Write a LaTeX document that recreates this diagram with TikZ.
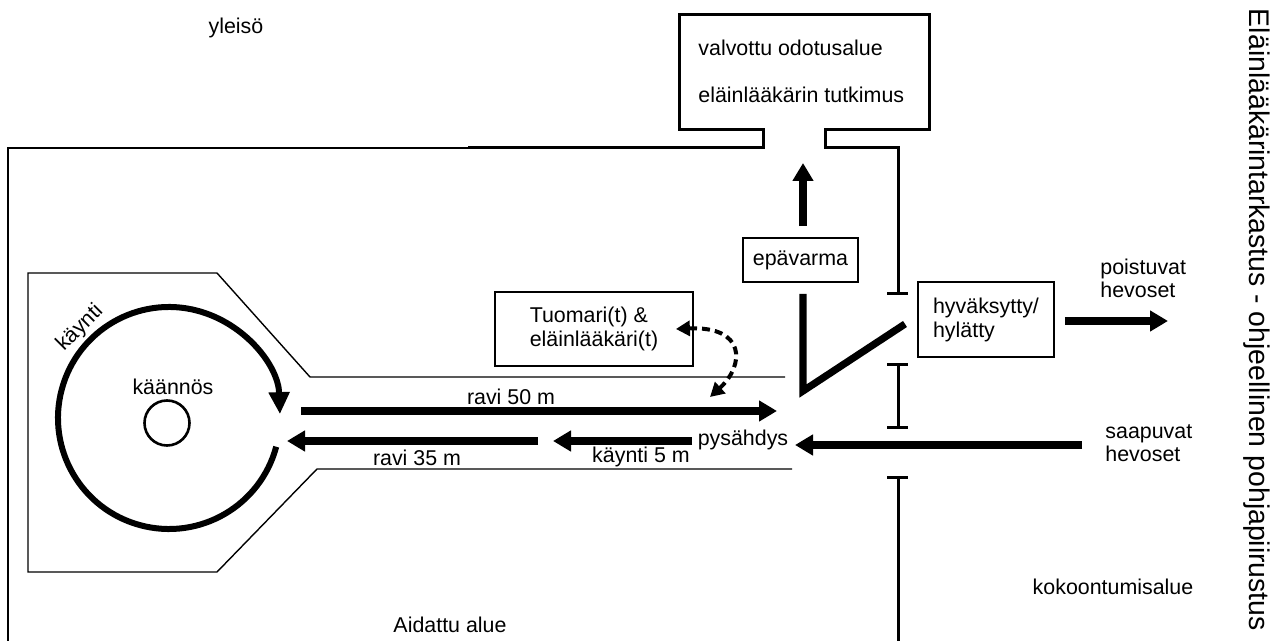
\documentclass[tikz,border=0pt]{standalone}
\usepackage{fontspec}
\setmainfont{Liberation Sans}
\usetikzlibrary{arrows.meta}

\begin{document}
\begin{tikzpicture}[x=0.5pt,y=-0.5pt,
    fence/.style={line width=1.5pt},
    lane/.style={line width=0.7pt},
    fat/.style={line width=3.6pt},
    fatarrow/.style={fat,-{Triangle[length=9pt,width=10pt]}},
    box/.style={draw,line width=0.9pt,inner sep=0pt,align=left},
    lbl/.style={inner sep=0pt,align=left},
    dasharrow/.style={line width=2pt,dash pattern=on 4pt off 2.5pt,
      {Triangle[length=7pt,width=7.5pt]}-{Triangle[length=7pt,width=7.5pt]}}]
    \providecommand{\planfont}{\fontsize{10.7}{12}\selectfont}
    \providecommand{\titlefont}{\fontsize{14.2}{16}\selectfont}
    \tikzset{every node/.append style={font=\planfont}}
    \useasboundingbox (0,0) rectangle (1281,641);
    % aita ja odotusalue
    \draw[line width=1.2pt] (8,641) -- (8,148) -- (468,148);
    \draw[fence] (468,148) -- (763,148) -- (763,130) -- (679,130) -- (679,15) -- (929,15)
      -- (929,130) -- (825,130) -- (825,148) -- (898,148) -- (898,294);
    \draw[fence] (887,294) -- (908,294);
    \draw[fence] (898,365) -- (898,428) (887,365) -- (908,365) (887,428) -- (908,428);
    \draw[fence] (887,478) -- (908,478) (898,478) -- (898,641);
    % ravikuja
    \draw[lane] (785,377) -- (310,377) -- (217,273) -- (28,273) -- (28,572) -- (217,572)
      -- (317,469) -- (792,469);
    \coordinate (ring) at (169,418);
    \draw[line width=3pt,-{Triangle[length=11pt,width=10pt]}] (ring) ++(15:111)
      arc[start angle=15,end angle=358,radius=111];
    \node[draw,circle,minimum size=22.5pt,inner sep=0pt,line width=1.3pt] (turn) at (167,423) {};
    \node (kaannos) at (173,387) {käännös};
    \node[rotate=45,inner sep=0pt] (kaynti) at (80,328) {käynti};
    \node (ravi50) at (511,397) {ravi 50 m};
    \node (ravi35) at (417,458) {ravi 35 m};
    \node (kaynti5) at (641,457) {käynti 5 m};
    \node (pysahdys) at (743,440) {pysähdys};
    \draw[fatarrow] (301,411) -- (777,411);
    \draw[fatarrow] (538,441) -- (287,441);
    \draw[fatarrow] (692,441) -- (553,441);
    \draw[fatarrow] (1082,445) -- (795,445);
    % laatikot
    \node[box,minimum width=99pt,minimum height=37pt] (tuomari) at (594,329) {Tuomari(t) \&\\eläinlääkäri(t)};
    \node[box,minimum width=57.5pt,minimum height=22pt] (epavarma) at (800.5,260) {epävarma};
    \node[box,minimum width=68pt,minimum height=37.5pt] (hyvaksytty) at (986,319.5) {hyväksytty/\\hylätty};
    \node[lbl,anchor=west] (valvottu) at (698,48) {valvottu odotusalue};
    \node[lbl,anchor=west] (tutkimus) at (698,95) {eläinlääkärin tutkimus};
    \coordinate (odotus) at (803,163);
    \coordinate (haltpoint) at (710,397);
    \coordinate (exit) at (1168,321);
    \draw[fatarrow] ([xshift=1.25pt,yshift=5.5pt]epavarma.north) -- (odotus);
    \draw[fat] ([xshift=1.25pt,yshift=-5.5pt]epavarma.south) -- (803,391) -- (905,324);
    \draw[dasharrow] ([xshift=-9pt]tuomari.east) .. controls +(70,-3) and +(35,-32) .. (haltpoint);
    \draw[fatarrow] ([xshift=5pt,yshift=-0.75pt]hyvaksytty.east) -- (exit);
    \node[lbl,anchor=west] (poistuvat) at (1100,278) {poistuvat\\[-0.5pt]hevoset};
    \node[lbl,anchor=west] (saapuvat) at (1105,443) {saapuvat\\[-0.5pt]hevoset};
    \node (yleiso) at (236,28) {yleisö};
    \node (aidattu) at (450,625) {Aidattu alue};
    \node (kokoontumis) at (1113,587) {kokoontumisalue};
    \node[rotate=-90,font=\titlefont] (otsikko) at (1257,320) {Eläinlääkärintarkastus - ohjeellinen pohjapiirustus};
\end{tikzpicture}
\end{document}
